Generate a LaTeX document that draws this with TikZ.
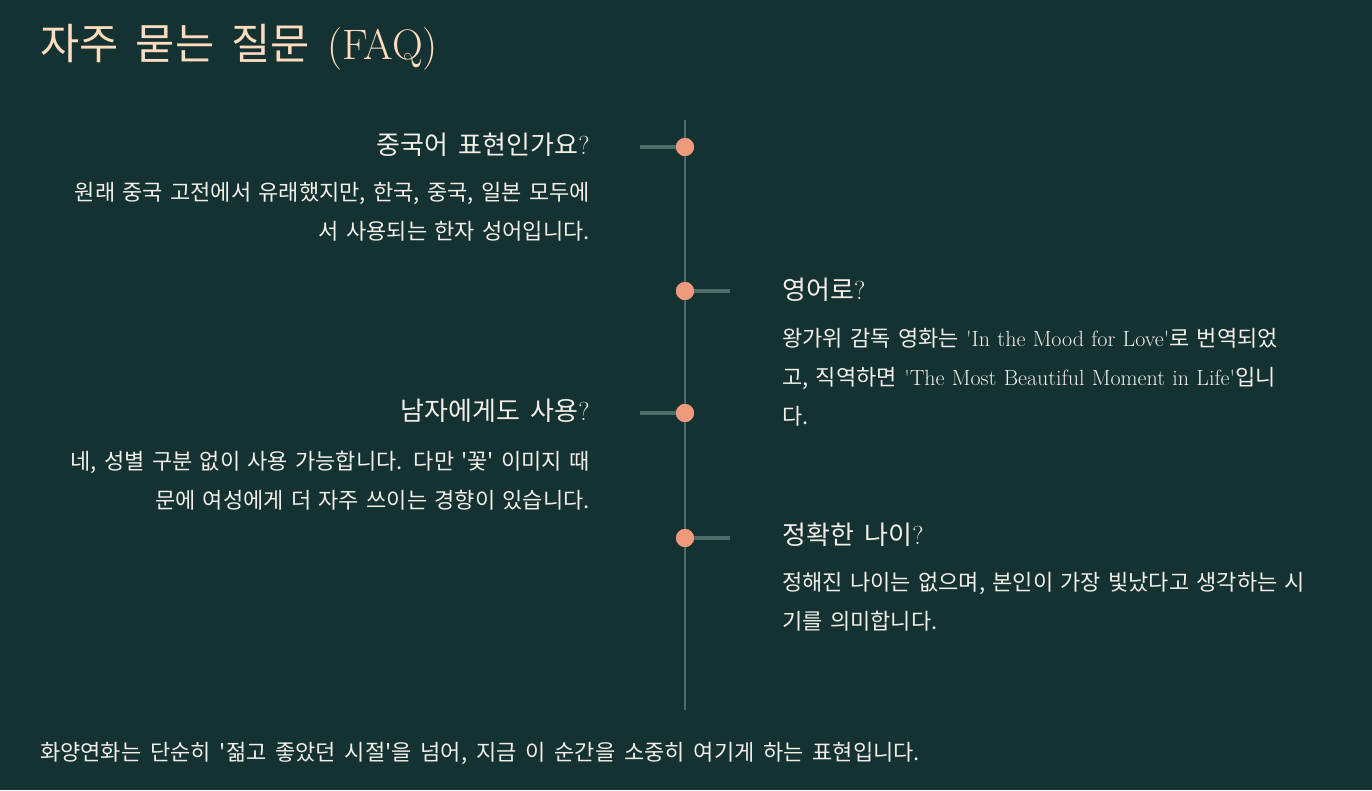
\documentclass[tikz,border=0pt]{standalone}
\usepackage{fontspec}
\setmainfont{Noto Sans CJK KR}[WordSpace=1.8]
\newfontfamily\latin{Latin Modern Roman}
\usetikzlibrary{positioning}
\definecolor{faqbg}{HTML}{143232}
\definecolor{faqline}{HTML}{4E6C69}
\definecolor{faqdot}{HTML}{F0997D}
\definecolor{faqtitle}{HTML}{FFDCC0}
\definecolor{faqtext}{HTML}{F3EFE8}
\newcommand{\sq}{\textquotesingle}

\begin{document}
\begin{tikzpicture}[
    x=0.75pt, y=-0.75pt,
    heading/.style={inner sep=0pt, text=faqtitle,
                    font=\fontsize{32}{40}\selectfont},
    question/.style={inner sep=0pt, text=faqtext,
                     font=\fontsize{19.5}{24}\selectfont},
    answer/.style={inner sep=0pt, text=faqtext, text width=440pt,
                   font=\fontsize{16.5}{29.25}\selectfont},
    dot/.style={circle, fill=faqdot, inner sep=0pt, minimum size=13.5pt},
    stub/.style={draw=faqline, line width=2.4pt},
    axis/.style={draw=faqline, line width=1.5pt},
]
\useasboundingbox[fill=faqbg] (0,0) rectangle (1372,790);

% Title
\node[heading, anchor=base west] (title) at (40,59)
     {자주 묻는 질문 {\latin(FAQ)}};

% Timeline
\coordinate (top) at (685,120);
\coordinate (bottom) at (685,710);
\draw[axis] (top) -- (bottom);

% Item 1 (left)
\coordinate (s1) at (640,147);
\node[dot] (d1) at (685,147) {};
\node[question, anchor=base east] (q1) at (590,154)
     {중국어 표현인가요{\latin ?}};
\node[answer, align=right, anchor=base east] (a1) at (590,200)
     {원래 중국 고전에서 유래했지만, 한국, 중국, 일본 모두에\\
      서 사용되는 한자 성어입니다.};

% Item 2 (right)
\coordinate (s2) at (730,291);
\node[dot] (d2) at (685,291) {};
\node[question, anchor=base west] (q2) at (782,299)
     {영어로{\latin ?}};
\node[answer, align=left, anchor=base west] (a2) at (782,346)
     {왕가위 감독 영화는 {\latin\sq In the Mood for Love\sq}로 번역되었\\
      고, 직역하면 {\latin\sq The Most Beautiful Moment in Life\sq}입니\\
      다.};

% Item 3 (left)
\coordinate (s3) at (640,413);
\node[dot] (d3) at (685,413) {};
\node[question, anchor=base east] (q3) at (590,420)
     {남자에게도 사용{\latin ?}};
\node[answer, align=right, anchor=base east] (a3) at (590,469)
     {네, 성별 구분 없이 사용 가능합니다. 다만 \sq 꽃\sq{} 이미지 때\\
      문에 여성에게 더 자주 쓰이는 경향이 있습니다.};

% Item 4 (right)
\coordinate (s4) at (730,538);
\node[dot] (d4) at (685,538) {};
\node[question, anchor=base west] (q4) at (782,544)
     {정확한 나이{\latin ?}};
\node[answer, align=left, anchor=base west] (a4) at (782,590)
     {정해진 나이는 없으며, 본인이 가장 빛났다고 생각하는 시\\
      기를 의미합니다.};

% Stubs
\draw[stub] (s1) -- (d1);
\draw[stub] (s2) -- (d2);
\draw[stub] (s3) -- (d3);
\draw[stub] (s4) -- (d4);
\node[dot] at (d1) {};
\node[dot] at (d2) {};
\node[dot] at (d3) {};
\node[dot] at (d4) {};

% Closing line
\node[answer, text width=, anchor=base west] (note) at (40,760)
     {화양연화는 단순히 \sq 젊고 좋았던 시절\sq 을 넘어, 지금 이 순간을 소중히 여기게 하는 표현입니다.};
\end{tikzpicture}
\end{document}
